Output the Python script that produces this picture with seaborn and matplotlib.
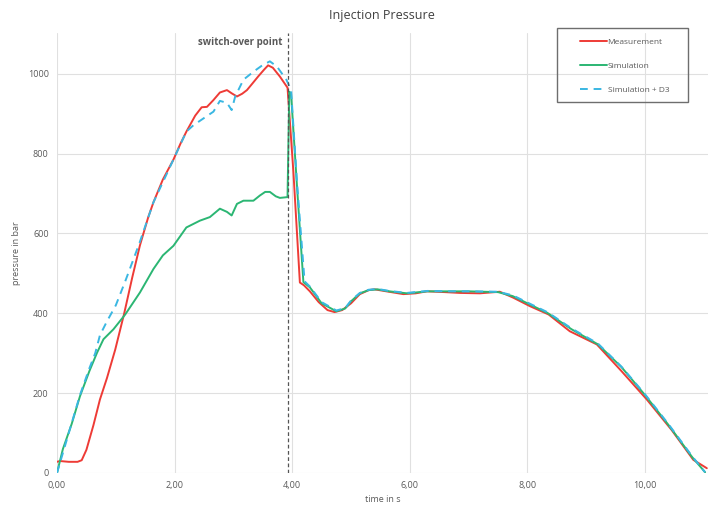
import numpy as np
import matplotlib
matplotlib.use("Agg")
import matplotlib.pyplot as plt
from matplotlib.patches import Rectangle
import seaborn as sns

# measured injection pressure (time in s, pressure in bar)
t_meas = [0.00, 0.05, 0.20, 0.35, 0.42, 0.50, 0.62, 0.73, 0.85, 0.99, 1.14, 1.28, 1.41,
          1.55, 1.64, 1.80, 1.98, 2.10, 2.20, 2.35, 2.46, 2.55, 2.66, 2.77, 2.89, 2.97,
          3.06, 3.15, 3.23, 3.32, 3.42, 3.52, 3.59, 3.67, 3.79, 3.92, 4.02, 4.13, 4.20,
          4.30, 4.45, 4.60, 4.72, 4.85, 5.00, 5.15, 5.30, 5.40, 5.60, 5.89, 6.10, 6.29,
          6.60, 6.85, 7.19, 7.53, 7.76, 8.04, 8.36, 8.72, 9.18, 9.60, 10.03, 10.45,
          10.82, 11.05]
p_meas = [28, 30, 28, 28, 32, 58, 120, 184, 238, 309, 398, 490, 570,
          640, 678, 735, 785, 825, 855, 895, 916, 917, 934, 953, 959, 951,
          943, 950, 959, 975, 993, 1010, 1021, 1015, 993, 965, 754, 477, 470,
          455, 428, 408, 403, 408, 425, 448, 458, 460, 455, 448, 450, 455,
          453, 451, 450, 454, 439, 418, 397, 355, 322, 255, 184, 108,
          33, 12]

# simulation
t_sim = [0.00, 0.10, 0.25, 0.39, 0.55, 0.68, 0.79, 0.96, 1.16, 1.41, 1.64, 1.80, 1.98,
         2.20, 2.43, 2.60, 2.77, 2.89, 2.97, 3.06, 3.17, 3.34, 3.45, 3.54, 3.62, 3.72,
         3.79, 3.92, 3.95, 3.98, 4.08, 4.19, 4.30, 4.50, 4.75, 4.90, 5.00, 5.15, 5.30,
         5.45, 5.65, 5.95, 6.30, 6.70, 7.00, 7.50, 7.75, 8.00, 8.35, 8.75, 9.20, 9.60,
         10.00, 10.40, 10.80, 11.02]
p_sim = [0, 60, 123, 192, 255, 301, 335, 360, 397, 452, 511, 545, 569,
         615, 632, 641, 662, 654, 645, 674, 682, 682, 695, 704, 704, 693,
         689, 691, 955, 950, 720, 478, 465, 425, 405, 412, 430, 450, 458,
         460, 455, 450, 455, 455, 455, 453, 443, 425, 400, 360, 322, 265,
         195, 120, 40, 2]

# simulation + D3
t_d3 = [0.00, 0.20, 0.39, 0.55, 0.65, 0.73, 0.85, 1.00, 1.16, 1.40, 1.64, 1.98, 2.20,
        2.32, 2.49, 2.66, 2.77, 2.89, 2.97, 3.03, 3.17, 3.34, 3.50, 3.62, 3.74, 3.90,
        3.98, 4.08, 4.21, 4.30, 4.50, 4.75, 4.90, 5.00, 5.15, 5.30, 5.45, 5.65, 5.95,
        6.30, 6.70, 7.00, 7.50, 7.75, 8.00, 8.35, 8.75, 9.20, 9.60, 10.00, 10.40,
        10.80, 11.02]
p_d3 = [0, 100, 195, 262, 300, 345, 380, 420, 480, 575, 678, 785, 855,
        871, 888, 905, 932, 927, 909, 943, 985, 1005, 1022, 1031, 1018, 985,
        960, 730, 480, 467, 428, 407, 413, 432, 451, 459, 461, 456, 451,
        456, 455, 455, 454, 445, 427, 402, 362, 324, 266, 197, 122,
        42, 2]

switch_over = 3.93
x_ticks = [0, 2, 4, 6, 8, 10]
x_tick_labels = ["0,00", "2,00", "4,00", "6,00", "8,00", "10,00"]
y_ticks = [0, 200, 400, 600, 800, 1000]

sns.set_style("whitegrid")
plt.rcParams["font.family"] = ["Open Sans", "DejaVu Sans"]

fig = plt.figure(figsize=(7.15, 5.05), dpi=100)
ax = fig.add_axes([57 / 715, 1 - 473 / 505, 651 / 715, 440 / 505])

sns.lineplot(x=t_meas, y=p_meas, ax=ax, color="#ee3b36", lw=1.4,
             estimator=None, sort=False, label="Measurement")
sns.lineplot(x=t_sim, y=p_sim, ax=ax, color="#2bb673", lw=1.4,
             estimator=None, sort=False, label="Simulation")
sns.lineplot(x=t_d3, y=p_d3, ax=ax, color="#3ab7e2", lw=1.4,
             estimator=None, sort=False, label="Simulation + D3")
ax.lines[-1].set_dashes([4, 3])

ax.axvline(switch_over, color="#555555", lw=0.9, ls=(0, (3, 2)))
ax.text(switch_over - 0.09, 1079, "switch-over point", ha="right", va="center",
        fontsize=7, fontweight="bold", color="#595959")

ax.set_xlim(0, 11.07)
ax.set_ylim(0, 1102)
ax.set_xticks(x_ticks)
ax.set_xticklabels(x_tick_labels)
ax.set_yticks(y_ticks)
ax.tick_params(axis="both", labelsize=6.5, colors="#595959", length=0, pad=6)
ax.grid(color="#e0e0e0", lw=0.8)
for s in ax.spines.values():
    s.set_visible(False)

ax.set_xlabel("time in s", fontsize=6.5, color="#595959", labelpad=3)
ax.set_ylabel("pressure in bar", fontsize=6.5, color="#595959", labelpad=5)

fig.text(382 / 715, 1 - 15 / 505, "Injection Pressure", ha="center", va="center",
         fontsize=9, color="#404040")

ax.legend_.remove()
handles, labels = ax.get_legend_handles_labels()
fig.legend(handles, labels, loc="upper left", frameon=False,
           bbox_to_anchor=(580 / 715, 1 - 38 / 505), bbox_transform=fig.transFigure,
           fontsize=6, labelspacing=1.95, handlelength=3.2, handletextpad=0.1,
           borderpad=0, borderaxespad=0, labelcolor="#595959")
fig.add_artist(Rectangle((557 / 715, 1 - 102 / 505), 131 / 715, 74 / 505,
                         transform=fig.transFigure, fill=False,
                         edgecolor="#6e6e6e", lw=1.0))

fig.savefig("out.png", dpi=100)
